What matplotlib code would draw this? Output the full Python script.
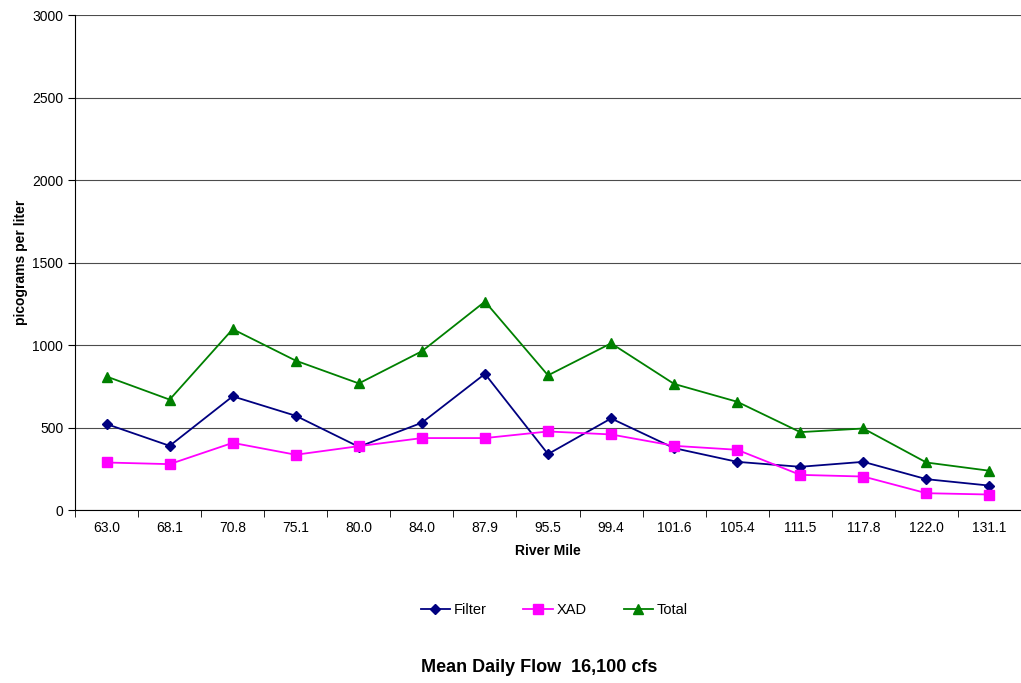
import matplotlib.pyplot as plt

plt.rcParams['font.family'] = ['Liberation Sans', 'DejaVu Sans']

river_mile = ["63.0", "68.1", "70.8", "75.1", "80.0", "84.0", "87.9", "95.5",
              "99.4", "101.6", "105.4", "111.5", "117.8", "122.0", "131.1"]
filter_vals = [522, 390, 690, 572, 384, 530, 826, 340, 556, 376, 293, 263, 293, 188, 149]
xad_vals = [289, 279, 408, 336, 388, 437, 437, 477, 459, 390, 366, 214, 204, 103, 95]
total_vals = [810, 670, 1097, 906, 768, 963, 1264, 817, 1011, 765, 657, 473, 495, 289, 239]

fig = plt.figure(figsize=(10.21, 6.83), dpi=100)
ax = fig.add_axes([0.0735, 0.253, 0.9265, 0.725])

x = list(range(len(river_mile)))
ax.plot(x, filter_vals, color="#000080", marker="D", markersize=5.5, lw=1.3, label="Filter")
ax.plot(x, xad_vals, color="#FF00FF", marker="s", markersize=7, lw=1.3, label="XAD")
ax.plot(x, total_vals, color="#008000", marker="^", markersize=7.5, lw=1.3, label="Total")

ax.set_xlim(-0.5, len(x) - 0.5)
ax.set_ylim(0, 3000)
ax.set_yticks(range(0, 3001, 500))
ax.yaxis.grid(True, color="#000000", lw=0.8, alpha=0.7)
ax.set_axisbelow(True)

ax.set_xticks(x)
ax.set_xticklabels(river_mile)
ax.set_xticks([i - 0.5 for i in range(len(x) + 1)], minor=True)
ax.tick_params(axis="x", which="major", length=0, pad=8, labelsize=10)
ax.tick_params(axis="x", which="minor", length=5, direction="out")
ax.tick_params(axis="y", length=5, direction="out", labelsize=10)

for s in ["top", "right"]:
    ax.spines[s].set_visible(False)

ax.set_xlabel("River Mile", fontweight="bold", fontsize=10, labelpad=6)
ax.set_ylabel("picograms per liter", fontweight="bold", fontsize=10, labelpad=3)

fig.legend(loc="center", bbox_to_anchor=(0.543, 0.107), ncol=3, frameon=False,
           fontsize=10.5, handlelength=2.0, columnspacing=2.5, handletextpad=0.3)
fig.text(0.528, 0.022, "Mean Daily Flow  16,100 cfs", ha="center", va="center",
         fontweight="bold", fontsize=13)

fig.savefig("out.png", dpi=100)
